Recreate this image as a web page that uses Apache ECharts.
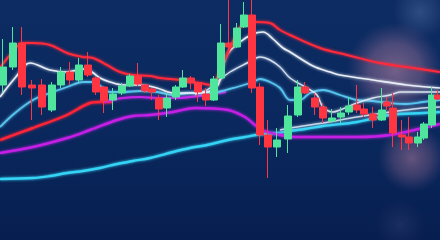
<!DOCTYPE html>
<html><head><meta charset="utf-8">
<script src="https://cdn.jsdelivr.net/npm/echarts@6/dist/echarts.min.js"></script>
<style>html,body{margin:0;padding:0;background:#0a275c;}#c{width:440px;height:240px;}</style>
</head><body><div id="c"></div>
<script>
// Candles: time position, open, close, low, high (price units)
const candleT = [3,13,22,32,42,52,61,70,79,88, 96,104,113,122,130,138,145,152,159,167, 176,183,191,198,206,214,221,229,237,244, 252,260,268,277,288,298,305,315,323,332, 341,349,357,364,373,382,387,393,402,409, 418,424,432,438];
const candleOpen  = [155,173,197,155,155,130,155,168,160,175, 162,153,140,147,154,164,155,151,142,132, 143,153,162,157,146,140,162,197,193,213, 225,153,105,93,101,125,153,142,133,119, 123,128,135,131,126,120,138,132,105,103, 97,102,115,145];
const candleClose = [173,197,153,152,133,155,168,160,175,165, 148,139,146,154,164,156,149,148,131,142, 153,162,157,148,140,161,197,193,212,225, 152,105,93,100,124,153,147,133,122,122, 127,134,130,126,120,130,134,107,103,97, 103,116,145,141];
const candleLow   = [148,170,145,120,125,128,152,155,158,163, 145,127,130,145,153,154,147,140,120,123, 140,152,151,138,134,139,161,190,192,212, 147,95,62,83,87,123,146,125,117,117, 117,125,127,123,112,119,130,93,90,90, 93,100,112,140];
const candleHigh  = [201,213,213,160,161,158,173,178,182,188, 164,154,152,157,166,177,156,152,145,147, 155,170,164,158,152,164,216,240,217,238, 240,157,120,112,135,160,158,147,137,131, 133,143,155,137,133,152,143,147,120,123, 108,118,153,150];

// Moving-average lines as [time, price]
const maRedTop = [[0,172],[10,185],[23,197],[33,197],[50,195],[67,187],[83,183],[93,182],[107,175],[120,168],[133,165],[150,164],[160,162],[180,160],[200,157],[212,155],[220,170],[230,192],[242,215],[255,218],[270,217],[280,210],[290,205],[320,192],[347,185],[380,177],[413,172],[440,168]];
const maWhite1 = [[0,143],[15,162],[30,177],[50,170],[67,168],[83,171],[92,168],[100,162],[110,158],[123,155],[140,155],[157,152],[173,147],[190,147],[207,148],[218,155],[227,185],[240,198],[253,206],[263,208],[273,201],[283,192],[290,188],[313,174],[330,168],[340,165],[373,160],[407,155],[440,152]];
const maWhite2 = [[195,146],[207,150],[217,158],[230,168],[247,177],[260,183],[270,180],[280,173],[290,162],[307,152],[317,145],[323,133],[333,128],[340,130],[357,137],[373,142],[390,145],[400,148],[423,148],[440,148]];
const maBlue = [[0,113],[15,127],[33,140],[50,147],[67,153],[83,158],[93,158],[110,148],[123,148],[140,149],[157,148],[173,145],[190,147],[207,147],[218,148],[237,153],[253,158],[260,161],[270,158],[280,152],[290,140],[300,140],[310,147],[323,150],[340,145],[357,140],[373,139],[390,137],[407,136],[423,138],[440,140]];
const maRedLow = [[0,100],[33,112],[67,125],[90,137],[100,138],[112,138]];
const maMagentaTop = [[104,138],[123,142],[140,143],[157,142],[173,142],[190,143],[207,145],[218,147],[226,148]];
const maMagentaLow = [[0,87],[33,93],[67,102],[90,110],[117,120],[133,124],[150,125],[173,128],[195,132],[228,130],[245,123],[255,115],[262,110],[280,105],[295,103],[323,103],[357,103],[390,105],[423,112],[440,116]];
const maCyanLow = [[0,61],[33,62],[50,64],[67,67],[83,69],[100,72],[117,76],[133,79],[150,82],[173,88],[190,92],[207,95],[228,100],[245,103],[262,106],[278,107],[290,109],[305,111],[323,114],[357,118],[390,125],[423,127],[440,128]];
const maWhiteLow = [[280,110],[290,112],[323,117],[357,123],[390,128],[423,132],[440,133]];

const candleData = candleT.map((t,i)=>[t,candleOpen[i],candleClose[i],candleLow[i],candleHigh[i]]);

function ma(data,color,width,opacity){
  return {type:'line',data:data,smooth:0.35,symbol:'none',z:2,
    lineStyle:{color:color,width:width,opacity:opacity==null?1:opacity,shadowColor:color,shadowBlur:3},silent:true};
}
function glow(cx,cy,rx,ry,c0,c1,z){
  return {type:'ellipse',shape:{cx:cx,cy:cy,rx:rx,ry:ry},z:z,silent:true,
    style:{fill:{type:'radial',x:0.5,y:0.5,r:0.5,colorStops:[{offset:0,color:c0},{offset:0.55,color:c1},{offset:1,color:'rgba(140,100,150,0)'}]}}};
}

const chart = echarts.init(document.getElementById('c'),null,{renderer:'canvas'});
chart.setOption({
  animation:false,
  backgroundColor:{type:'linear',x:0,y:0,x2:0,y2:1,colorStops:[{offset:0,color:'#0c2c63'},{offset:0.55,color:'#0a285d'},{offset:1,color:'#071e50'}]},
  grid:{left:0,right:0,top:0,bottom:0},
  xAxis:{type:'value',min:0,max:440,show:false},
  yAxis:{type:'value',min:0,max:240,show:false},
  graphic:[
    glow(395,70,80,48,'rgba(200,140,170,0.55)','rgba(180,125,160,0.38)',1),
    glow(412,158,55,34,'rgba(190,130,160,0.5)','rgba(170,115,150,0.3)',1),
    glow(420,12,45,28,'rgba(130,150,200,0.3)','rgba(120,140,190,0.15)',1),
    glow(400,225,60,25,'rgba(120,110,170,0.18)','rgba(110,100,160,0.08)',1)
  ],
  series:[
    ma(maCyanLow,'#35d3f5',2.4),
    ma(maWhiteLow,'#d8e6f5',1.4,0.85),
    ma(maMagentaLow,'#c51fe6',2.4),
    ma(maRedLow,'#ff2438',2.4),
    ma(maMagentaTop,'#c824e8',2.2),
    ma(maBlue,'#58c4ee',1.8),
    ma(maWhite2,'#e2ecf8',1.4,0.9),
    ma(maWhite1,'#eef3fb',1.6,0.95),
    ma(maRedTop,'#ff2a3c',2.0),
    {type:'candlestick',data:candleData,encode:{x:0,y:[1,2,3,4]},barWidth:7,z:3,silent:true,
      itemStyle:{color:'#4fe59c',color0:'#ff3542',borderColor:'#4fe59c',borderColor0:'#ff3542',borderWidth:1}}
  ]
});
</script></body></html>
